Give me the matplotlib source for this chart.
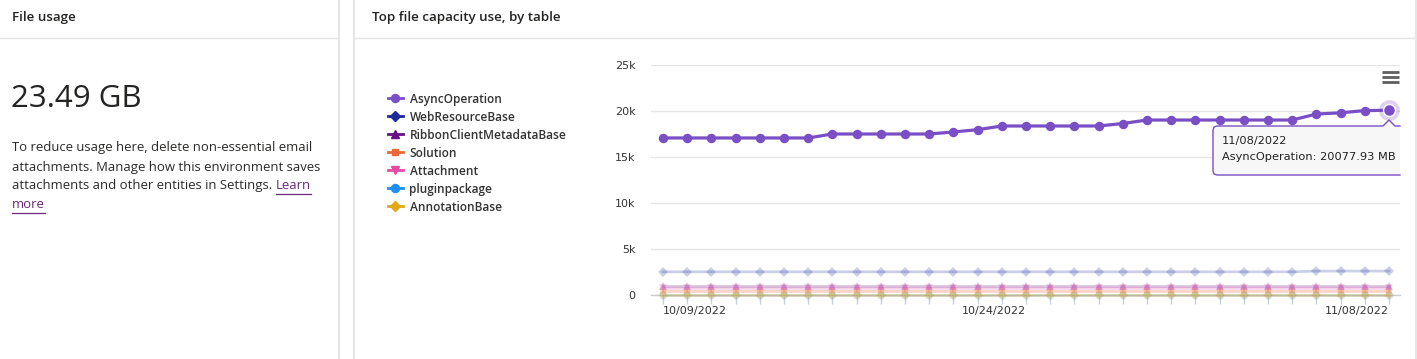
import matplotlib
matplotlib.use('Agg')
import matplotlib.pyplot as plt
from matplotlib.lines import Line2D
from matplotlib.patches import Polygon
from matplotlib.font_manager import FontProperties
import pandas as pd

# ---------------- data ----------------
dates = pd.date_range('2022-10-09', '2022-11-08', freq='D')
date_labels = [d.strftime('%m/%d/%Y') for d in dates]
label_dates = ['10/09/2022', '10/24/2022', '11/08/2022']

series_names = ['AsyncOperation', 'WebResourceBase', 'RibbonClientMetadataBase',
                'Solution', 'Attachment', 'pluginpackage', 'AnnotationBase']

async_operation = [17070, 17070, 17070, 17070, 17070, 17070, 17070,
                   17500, 17500, 17500, 17500, 17500, 17720, 17970,
                   18370, 18370, 18370, 18370, 18370, 18640,
                   19020, 19020, 19020, 19020, 19020, 19020, 19020,
                   19670, 19800, 20050, 20077.93]
web_resource_base = [2520, 2520, 2520, 2520, 2520, 2520, 2520, 2520, 2520, 2520,
                     2520, 2520, 2520, 2520, 2520, 2520, 2520, 2520, 2520, 2520,
                     2520, 2520, 2520, 2520, 2520, 2520, 2520, 2600, 2600, 2600, 2600]
ribbon_client_metadata = [1010, 1010, 1010, 1010, 1010, 1010, 1010, 1010, 1010, 1010,
                          1010, 1010, 1010, 1010, 1010, 1010, 1010, 1010, 1010, 1010,
                          1010, 1010, 1010, 1010, 1010, 1010, 1010, 1010, 1010, 1010, 1010]
solution = [470, 470, 470, 470, 470, 470, 470, 470, 470, 470,
            470, 470, 470, 470, 470, 470, 470, 470, 470, 470,
            470, 470, 470, 470, 470, 470, 470, 470, 470, 470, 470]
attachment = [760, 760, 760, 760, 760, 760, 760, 760, 760, 760,
              760, 760, 760, 760, 760, 760, 760, 760, 760, 760,
              760, 760, 760, 760, 760, 760, 760, 760, 760, 760, 760]
plugin_package = [40, 40, 40, 40, 40, 40, 40, 40, 40, 40,
                  40, 40, 40, 40, 40, 40, 40, 40, 40, 40,
                  40, 40, 40, 40, 40, 40, 40, 40, 40, 40, 40]
annotation_base = [10, 10, 10, 10, 10, 10, 10, 10, 10, 10,
                   10, 10, 10, 10, 10, 10, 10, 10, 10, 10,
                   10, 10, 10, 10, 10, 10, 10, 10, 10, 10, 10]

y_ticks = [0, 5000, 10000, 15000, 20000, 25000]
y_tick_labels = ['0', '5k', '10k', '15k', '20k', '25k']

total_usage = '23.49 GB'

# ---------------- styles ----------------
colors = ['#7a4fc6', '#1b2a96', '#6a0f84', '#e8693a', '#e44ba6', '#1e8ff5', '#e0a818']
markers = ['o', 'D', '^', 's', 'v', 'o', 'D']
msizes = [5.8, 4.6, 5.8, 5.0, 5.8, 5.8, 4.6]
faded_alpha = [1, 0.22, 0.25, 0.28, 0.25, 0.16, 0.3]

W, H, DPI = 1417, 359, 100
fig = plt.figure(figsize=(W / DPI, H / DPI), dpi=DPI)
fig.patch.set_facecolor('white')


def fx(px):
    return px / W


def fy(py):
    return 1 - py / H


def fline(xs, ys, **kw):
    fig.add_artist(Line2D([fx(v) for v in xs], [fy(v) for v in ys],
                          transform=fig.transFigure, **kw))


# panel borders
border = '#e6e6e6'
fline([338.5, 338.5], [0, H], color=border, lw=1.6)
fline([353.5, 353.5], [0, H], color=border, lw=1.6)
fline([1415.5, 1415.5], [0, H], color=border, lw=1.6)
fline([0, 338], [38, 38], color=border, lw=1)
fline([354, 1415], [38, 38], color=border, lw=1)

TXT = '#252423'
fig.text(fx(12), fy(18), 'File usage', family='Open Sans', weight='semibold',
         size=9.6, color=TXT, va='center', ha='left')
fig.text(fx(372), fy(18), 'Top file capacity use, by table', family='Open Sans',
         weight='semibold', size=9.6, color=TXT, va='center', ha='left')
fig.text(fx(11), fy(99), total_usage, family='Open Sans', size=22.5,
         color=TXT, va='center', ha='left')

body_lines = ['To reduce usage here, delete non-essential email',
              'attachments. Manage how this environment saves',
              'attachments and other entities in Settings. ']
body_y = [148, 167, 186]
body_kw = dict(family='Open Sans', size=9.45, color='#2b2a29', va='center', ha='left')
body_texts = []
for t, yy in zip(body_lines, body_y):
    body_texts.append(fig.text(fx(12), fy(yy), t, **body_kw))

link_color = '#6b2a7a'
renderer = fig.canvas.get_renderer()
bb = body_texts[2].get_window_extent(renderer)
learn_x = bb.x1
t_learn = fig.text(learn_x / W, fy(186), 'Learn', **{**body_kw, 'color': link_color})
t_more = fig.text(fx(12), fy(205), 'more', **{**body_kw, 'color': link_color})
for t, yy in [(t_learn, 186), (t_more, 205)]:
    b = t.get_window_extent(renderer)
    fline([b.x0, b.x1], [yy + 7.5, yy + 7.5], color=link_color, lw=0.9)

# ---------------- chart ----------------
ax = fig.add_axes([fx(651), fy(295), fx(1400) - fx(651), (295 - 65) / H])
x = list(range(len(date_labels)))
all_series = [async_operation, web_resource_base, ribbon_client_metadata,
              solution, attachment, plugin_package, annotation_base]

for i, (name, vals) in enumerate(zip(series_names, all_series)):
    if i == 0:
        ax.plot(x, vals, color=colors[i], lw=2.3, marker=markers[i], ms=msizes[i],
                zorder=6, solid_capstyle='round', clip_on=False)
    else:
        ax.plot(x, vals, color=colors[i], lw=2.0, marker=markers[i], ms=msizes[i],
                alpha=faded_alpha[i], zorder=3 + i * 0.1, mew=0, clip_on=False)

# hovered point
ax.plot([x[-1]], [async_operation[-1]], 'o', ms=15, color=colors[0], alpha=0.25,
        mew=0, zorder=7, clip_on=False)
ax.plot([x[-1]], [async_operation[-1]], 'o', ms=8.6, color=colors[0], mec='white',
        mew=1.0, zorder=8, clip_on=False)

ax.set_xlim((651 - 663) / 24.2, (1400 - 663) / 24.2)
ax.set_ylim(0, 25000)
ax.set_yticks(y_ticks)
ax.set_yticklabels(y_tick_labels)
ax.yaxis.grid(True, color='#e6e6e6', lw=1)
ax.set_axisbelow(True)
for s in ['top', 'right', 'left']:
    ax.spines[s].set_visible(False)
ax.spines['bottom'].set_color('#c9ced8')
ax.spines['bottom'].set_linewidth(1)
ax.tick_params(axis='y', length=0, pad=11, labelsize=8, labelcolor='#333333')

major_idx = [date_labels.index(d) for d in label_dates]
ax.set_xticks(major_idx)
ax.set_xticklabels(label_dates)
ax.set_xticks(x, minor=True)
ax.tick_params(axis='x', which='both', length=6.5, width=1, color='#c5d0e6',
               direction='out', pad=1.5, labelsize=8, labelcolor='#333333')
xl = ax.get_xticklabels()
xl[0].set_ha('left')
xl[1].set_ha('right')
xl[2].set_ha('right')
for lab in ax.get_yticklabels() + xl:
    lab.set_family('DejaVu Sans')

# legend
handles = [Line2D([], [], color=c, lw=2, marker=m, ms=ms)
           for c, m, ms in zip(colors, markers, msizes)]
fig.legend(handles, series_names, loc='upper left',
           bbox_to_anchor=(fx(388), fy(92.5)), frameon=False,
           prop=FontProperties(family='Open Sans', weight='semibold', size=8.6),
           labelcolor='#333333', handlelength=1.25, handletextpad=0.55,
           labelspacing=0.42, borderpad=0, borderaxespad=0)

# hamburger menu
for yy in [71.5, 76.5, 81.5]:
    fline([1382, 1399], [yy, yy], color='#5e5e5e', lw=2.0, solid_capstyle='butt')

# tooltip
tip_pts = [(1400, 126), (1395, 126), (1389, 120), (1383, 126), (1217, 126),
           (1214, 127), (1213, 130), (1213, 171), (1214, 174), (1217, 175), (1400, 175)]
fig.add_artist(Polygon([(fx(a), fy(b)) for a, b in tip_pts], closed=True,
                       transform=fig.transFigure, facecolor='#f7f7f7',
                       edgecolor='none', zorder=9))
fline([p[0] for p in tip_pts], [p[1] for p in tip_pts], color=colors[0], lw=1, zorder=10)
fig.text(fx(1222), fy(141), date_labels[-1], family='DejaVu Sans', size=8.2,
         color='#222222', va='center', ha='left', zorder=11)
fig.text(fx(1222), fy(157), f'{series_names[0]}: {async_operation[-1]:.2f} MB',
         family='DejaVu Sans', size=8.2, color='#222222', va='center', ha='left',
         zorder=11)

fig.savefig('out.png', dpi=DPI, facecolor='white')
